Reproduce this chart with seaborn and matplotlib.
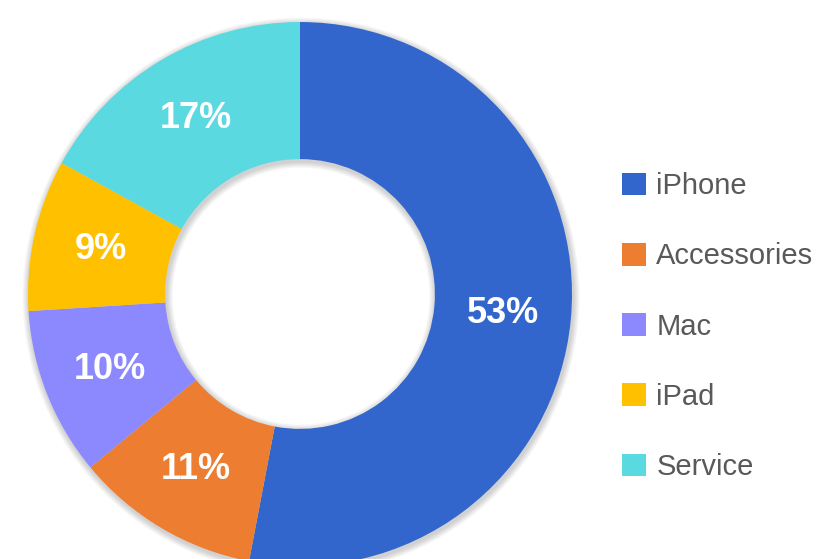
import matplotlib
matplotlib.use("Agg")
import matplotlib.pyplot as plt
import seaborn as sns
from matplotlib.patches import Patch

categories = ["iPhone", "Accessories", "Mac", "iPad", "Service"]
shares = [53, 11, 10, 9, 17]
colors = ["#3366CC", "#ED7D31", "#8C89FF", "#FFC000", "#5BD9E1"]

sns.set_theme(style="white")
plt.rcParams['font.family'] = ['Liberation Sans', 'DejaVu Sans']

fig = plt.figure(figsize=(8.2, 5.59), dpi=100)
# axes placed so that the ring is centred at about (300, 294) px
size = 560.3
ax = fig.add_axes([(300 - size / 2) / 820, (265 - size / 2) / 559, size / 820, size / 559])
ax.axis('off')

inner = 0.496
width = 1 - inner

# soft shadow: a few faint rings slightly wider than the donut
for k in range(6):
    grow = 0.004 * (k + 1)
    ax.pie([1], radius=1 + grow, colors=['black'], startangle=90,
           center=(0.004, -0.008),
           wedgeprops=dict(width=width + 2 * grow, alpha=0.03, linewidth=0))

wedges, texts, autotexts = ax.pie(
    shares,
    colors=colors,
    startangle=90,
    counterclock=False,
    radius=1,
    autopct=lambda p: f"{round(p):d}%",
    pctdistance=0.75,
    wedgeprops=dict(width=width, linewidth=0),
    textprops=dict(color='white', fontsize=26, fontweight='bold'),
)
ax.set_xlim(-1.03, 1.03)
ax.set_ylim(-1.03, 1.03)
ax.set_aspect('equal')

handles = [Patch(facecolor=c, edgecolor='none') for c in colors]
fig.legend(handles, categories, loc='upper left',
           bbox_to_anchor=(622 / 820, 1 - 172 / 559),
           frameon=False, fontsize=21, labelcolor='#595959',
           handlelength=0.82, handleheight=0.82, handletextpad=0.36,
           labelspacing=1.45, borderpad=0, borderaxespad=0)

fig.savefig("out.png", dpi=100)
